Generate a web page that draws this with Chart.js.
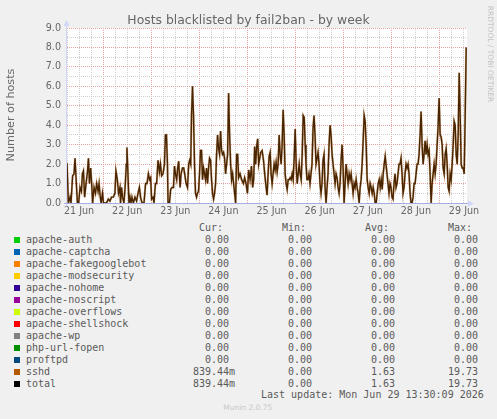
<!DOCTYPE html>
<html><head><meta charset="utf-8">
<script src="https://cdn.jsdelivr.net/npm/chart.js@4"></script>
<style>
html,body{margin:0;padding:0;background:#F0F0F0;}
#wrap{position:relative;width:497px;height:419px;overflow:hidden;background:#F0F0F0;}
#c{position:absolute;left:0;top:0;}
.t{position:absolute;white-space:pre;color:#666;}
.mono{font-family:"DejaVu Sans Mono",monospace;font-size:10px;line-height:12px;color:#5a5a5a;}
.sans{font-family:"DejaVu Sans",sans-serif;}
.sq{position:absolute;width:6px;height:6px;}
</style></head><body>
<div id="wrap"><canvas id="c" width="497" height="222"></canvas></div>
<script>
// ---- data (hours since 21 Jun 00:00) ----
const chartTitle = 'Hosts blacklisted by fail2ban - by week';
const yTitle = 'Number of hosts';
const dayLabels = ['21 Jun','22 Jun','23 Jun','24 Jun','25 Jun','26 Jun','27 Jun','28 Jun','29 Jun'];
const yTickValues = [0,1,2,3,4,5,6,7,8,9];
const hours = [6.0,6.7,7.5,8.0,8.8,9.5,10.0,10.5,11.2,11.8,12.5,13.2,13.7,14.2,14.8,15.5,16.2,16.7,17.2,17.8,
18.3,18.8,19.5,20.2,20.8,21.5,22.0,22.5,23.0,23.7,24.2,25.7,26.6,27.4,28.2,29.1,29.9,30.4,31.1,31.7,
32.4,32.7,33.2,33.7,34.4,35.1,35.6,35.9,36.4,36.9,37.4,37.9,38.4,39.1,39.9,40.7,41.4,42.1,42.7,43.4,
44.4,45.2,45.9,46.6,47.2,47.7,48.2,48.9,49.4,50.1,50.7,51.4,52.1,52.6,53.2,53.9,54.6,55.1,55.6,56.1,
56.4,57.1,57.7,58.4,59.1,59.6,60.1,60.7,61.2,61.7,62.4,62.9,63.6,64.2,64.7,65.4,66.1,66.7,67.2,67.7,
68.1,68.6,69.1,69.6,70.1,70.6,71.1,71.6,72.1,72.6,73.1,73.6,74.1,74.6,75.1,75.6,76.1,76.6,77.1,77.6,
78.1,78.6,79.1,79.6,80.1,80.6,81.1,81.6,82.1,82.6,83.1,83.6,84.1,84.6,85.1,85.6,86.1,86.6,87.1,87.6,
88.1,88.6,89.1,89.6,90.1,90.6,91.1,91.6,92.3,93.1,94.0,94.6,95.3,96.0,96.6,97.3,98.0,98.6,99.1,99.6,
100.1,100.6,101.1,101.6,102.1,102.6,103.3,104.0,104.6,105.3,105.8,
106.3,106.8,107.3,107.8,108.3,108.8,109.3,109.8,110.3,110.8,111.3,111.8,112.3,112.8,113.3,113.8,114.3,114.8,115.3,115.8,
116.3,116.8,117.3,117.8,118.3,118.8,119.3,119.8,120.3,120.8,121.3,121.8,122.3,122.8,123.3,123.8,124.3,124.8,
125.2,125.7,126.2,126.7,127.2,127.7,128.2,128.7,129.2,129.7,130.2,130.7,131.2,131.7,132.2,132.7,133.2,133.7,134.2,134.7,
135.2,135.7,136.2,136.7,137.2,137.7,138.2,138.7,139.2,139.7,140.2,140.7,141.2,141.7,142.2,142.7,143.2,143.7,144.2,144.7,
145.2,145.7,146.2,146.7,147.2,147.7,148.2,148.7,149.2,149.7,150.2,150.7,151.2,151.7,152.2,152.7,153.2,153.7,154.2,154.7,
155.2,155.7,156.2,156.7,157.2,157.7,158.2,158.7,159.2,159.7,160.2,160.7,161.2,161.7,162.2,162.7,163.2,163.7,164.2,164.7,
165.1,165.6,166.1,166.6,167.1,167.6,168.1,168.6,169.1,169.6,170.1,170.6,171.1,171.6,172.1,172.6,173.1,173.6,174.1,174.6,
175.1,175.6,176.1,176.6,177.1,177.6,178.1,178.6,179.1,179.6,180.1,180.6,181.1,181.6,182.1,182.6,183.1,183.6,184.1,184.6,
185.1,185.6,186.1,186.6,187.1,187.6,188.1,188.6,189.1,189.6,190.1,190.6,191.1,191.6,192.1,192.6,193.1,193.6,194.1,194.6,
195.1,195.6,196.1,196.6,197.1,197.6,198.1,198.6,199.1,199.6,200.1,200.6,201.1,201.6,202.1,202.6,203.1,203.6,204.1,204.6,
205.1];
const sshdHosts = [2.05,0,0.3,0,1.4,1.5,2.3,1.3,0,0,0.8,0.6,1.5,1.65,0.3,1.0,1.6,2.3,1.0,1.8,
1.0,0,0.8,0.5,1.0,0.6,1.0,0.4,0,0.5,0,0,0.2,0.1,0.3,0.3,0.5,1.65,1.2,0.5,
0.8,0,0.8,0.3,0,1.0,2.0,2.85,1.5,0,0.3,0,0.3,0,0.3,0.1,0.5,0.8,0.3,0,
0,1.0,1.0,1.5,1.2,1.3,0.2,0.3,0,1.0,1.0,2.2,1.6,2.0,1.4,1.5,2.0,3.5,3.5,2.0,
0,0,0.7,0.8,0.8,1.9,1.5,1.2,1.8,2.15,0.8,1.5,1.8,1.8,1.5,1.0,0.8,2.0,2.2,2.0,
4.5,6.0,4.5,2.0,0.5,0.3,0.5,0.6,1.5,2.7,2.7,1.2,1.8,1.5,1.2,1.8,1.0,1.8,2.3,2.2,
1.2,0.5,0.2,0.5,1.0,2.5,3.5,2.8,2.5,3.7,2.7,2.5,2.6,2.3,1.5,2.0,2.5,5.65,3.5,2.0,
1.2,1.5,1.0,0.5,0,2.5,2.5,1.3,1.5,1.2,1.0,1.3,1.0,0.5,1.7,1.2,1.9,0.8,1.2,2.9,
2.0,2.9,3.3,2.0,2.3,2.6,2.7,2.2,1.5,0.8,0.4,
1.5,2.4,2.6,1.5,1.0,1.5,2.0,1.7,2.1,1.6,2.0,3.5,2.5,2.0,3.0,4.8,3.5,1.5,1.0,0.7,
1.2,1.2,1.3,1.2,1.5,1.2,2.3,3.8,2.0,1.0,1.5,2.0,1.5,1.2,2.5,4.5,4.4,3.0,
2.0,1.2,1.2,1.5,1.0,1.5,2.0,3.8,4.5,3.5,2.0,2.3,2.6,2.0,1.0,0.5,1.0,2.2,2.5,0.8,
0,0.8,1.5,3.0,4.0,3.5,2.5,2.0,1.5,1.0,1.5,1.3,0.8,0.5,1.0,2.2,3.0,1.8,0,1.0,
2.0,1.5,1.0,1.5,1.2,1.5,1.0,0.5,1.0,0.8,1.2,0.8,0.5,0,0.8,1.2,2.0,3.2,4.5,4.2,
3.0,1.2,0.8,0.5,1.0,0.8,0.5,0.8,0.5,0,0,0.5,1.0,1.2,0.8,1.2,0.7,1.5,2.0,2.4,
2.4,1.5,1.0,0.5,1.0,0.8,0.3,0.2,1.0,1.5,0.8,1.0,1.5,2.0,2.0,2.3,1.5,0.5,0.8,1.5,
2.0,1.8,2.0,1.5,0.5,0,0,0.3,1.0,1.0,1.5,2.0,2.0,2.5,3.5,4.7,3.0,2.0,2.5,3.2,
2.5,3.0,2.5,2.7,1.5,0,1.0,1.5,2.0,1.5,2.0,3.0,4.0,5.4,3.5,3.4,3.0,1.8,1.5,2.5,
2.8,2.0,0.8,0.6,1.5,1.2,2.0,3.0,4.2,4.0,2.5,2.0,3.5,6.7,4.5,2.0,1.8,1.8,1.5,4.5,
8.0];
// "total" equals sshd on the picture (all other series are 0)
const totalHosts = sshdHosts;
const zeroHours = [6.0, 205.1];
const zeroHosts = [0, 0];

const seriesNames = ['apache-auth','apache-captcha','apache-fakegooglebot','apache-modsecurity','apache-nohome','apache-noscript','apache-overflows','apache-shellshock','apache-wp','php-url-fopen','proftpd','sshd','total'];
const seriesColors = ['#00CC00','#0066B3','#FF8000','#FFCC00','#330099','#990099','#CCFF00','#FF0000','#808080','#008F00','#00487D','#B35A00','#000000'];
const curValues = ['0.00','0.00','0.00','0.00','0.00','0.00','0.00','0.00','0.00','0.00','0.00','839.44m','839.44m'];
const minValues = ['0.00','0.00','0.00','0.00','0.00','0.00','0.00','0.00','0.00','0.00','0.00','0.00','0.00'];
const avgValues = ['0.00','0.00','0.00','0.00','0.00','0.00','0.00','0.00','0.00','0.00','0.00','1.63','1.63'];
const maxValues = ['0.00','0.00','0.00','0.00','0.00','0.00','0.00','0.00','0.00','0.00','0.00','19.73','19.73'];
const columnHeads = ['Cur:','Min:','Avg:','Max:'];
const lastUpdate = 'Last update: Mon Jun 29 13:30:09 2026';
const version = 'Munin 2.0.75';
const watermark = 'RRDTOOL / TOBI OETIKER';

// ---- build chart ----
const pts = (xs, ys) => xs.map((x, i) => ({x, y: ys[i]}));
const datasets = [];
for (let i = 0; i < 11; i++) {
  // zero-valued series lie on the axis and are hidden under it, as in the reference
  datasets.push({label: seriesNames[i], data: pts(zeroHours, zeroHosts), borderColor: seriesColors[i], borderWidth: 1,
    pointRadius: 0, tension: 0, clip: {left: 0, top: 0, right: 0, bottom: -1}});
}
datasets.push({label: 'sshd', data: pts(hours, sshdHosts), borderColor: 'rgba(179,90,0,0.4)', borderWidth: 2.2, pointRadius: 0, tension: 0});
datasets.push({label: 'total', data: pts(hours, totalHosts), borderColor: '#000000', borderWidth: 1.4, pointRadius: 0, tension: 0});

const MAJOR = '#e8a3a3', MINOR = '#cfcfcf', AXIS = '#CFD6F8', XAXIS = '#a6afe2';

const muninPlugin = {
  id: 'munin',
  beforeDraw(chart) {
    const {ctx, chartArea: a} = chart;
    ctx.save();
    ctx.fillStyle = '#F0F0F0'; ctx.fillRect(0, 0, chart.width, chart.height);
    ctx.fillStyle = '#FFFFFF'; ctx.fillRect(a.left, a.top, a.right - a.left, a.bottom - a.top);
    ctx.restore();
  },
  afterDatasetsDraw(chart) {
    const {ctx, chartArea: a} = chart;
    const y0 = Math.round(chart.scales.y.getPixelForValue(0)) + 0.5;
    const x0 = Math.round(a.left) - 0.5;
    ctx.save();
    ctx.lineWidth = 1;
    ctx.strokeStyle = AXIS;
    ctx.beginPath(); ctx.moveTo(x0, y0 + 3); ctx.lineTo(x0, a.top - 4); ctx.stroke();
    ctx.fillStyle = AXIS;
    ctx.beginPath(); ctx.moveTo(x0 - 3, a.top - 2); ctx.lineTo(x0 + 3, a.top - 2); ctx.lineTo(x0, a.top - 8); ctx.closePath(); ctx.fill();
    ctx.strokeStyle = XAXIS;
    ctx.beginPath(); ctx.moveTo(a.left - 3, y0); ctx.lineTo(a.right + 1, y0); ctx.stroke();
    ctx.fillStyle = AXIS;
    ctx.beginPath(); ctx.moveTo(a.right + 1, y0 - 3); ctx.lineTo(a.right + 1, y0 + 3); ctx.lineTo(a.right + 7, y0); ctx.closePath(); ctx.fill();
    ctx.restore();
  }
};

Chart.defaults.font.family = '"DejaVu Sans", sans-serif';
new Chart(document.getElementById('c'), {
  type: 'line',
  data: {datasets},
  plugins: [muninPlugin],
  options: {
    responsive: false, animation: false, devicePixelRatio: 1,
    layout: {padding: {top: 28, right: 30, left: 0, bottom: 0}},
    plugins: {legend: {display: false}, tooltip: {enabled: false}, title: {display: false}},
    scales: {
      x: {
        type: 'linear', min: 6.0, max: 205.5,
        afterBuildTicks: s => { const t = []; for (let h = 6; h <= 204; h += 6) t.push({value: h}); s.ticks = t; },
        afterFit: s => { s.height = 19; },
        ticks: {autoSkip: false, maxRotation: 0, padding: 3, color: '#666', font: {size: 9.6},
          callback: v => (v % 24 === 12 ? dayLabels[(v - 12) / 24] : '')},
        grid: {drawTicks: false, lineWidth: 1, color: c => (c.tick && c.tick.value % 24 === 0 ? MAJOR : MINOR)},
        border: {display: false, dash: [1, 1]}
      },
      y: {
        min: 0, max: 9,
        afterBuildTicks: s => { const t = []; for (let v = 0; v <= 9; v += 0.5) t.push({value: v}); s.ticks = t; },
        afterFit: s => { s.width = 67; },
        ticks: {autoSkip: false, padding: 6, color: '#666', font: {size: 9.6},
          callback: v => (yTickValues.includes(v) ? v.toFixed(1) : '')},
        grid: {drawTicks: false, lineWidth: 1, color: c => (c.tick && Number.isInteger(c.tick.value) ? MAJOR : MINOR)},
        border: {display: false, dash: [1, 1]}
      }
    }
  }
});

// ---- texts ----
const wrap = document.getElementById('wrap');
function addText(txt, cls, style) {
  const d = document.createElement('div');
  d.className = 't ' + cls; d.textContent = txt;
  Object.assign(d.style, style); wrap.appendChild(d); return d;
}
addText(chartTitle, 'sans', {left: '0px', width: '497px', textAlign: 'center', top: '12.5px', fontSize: '12.4px', lineHeight: '14px'});
addText(yTitle, 'sans', {left: '-89px', width: '200px', textAlign: 'center', top: '107.7px', fontSize: '11.2px', lineHeight: '14px', transform: 'rotate(-90deg)'});
addText(watermark, 'sans', {left: '440px', width: '100px', textAlign: 'center', top: '48.5px', fontSize: '7.5px', lineHeight: '10px', color: '#c2c2c2', transform: 'rotate(90deg)'});

const colStarts = [193, 276, 359, 442];
const fmt = v => (/[a-zA-Z]$/.test(v) ? v.padStart(7) : v.padStart(6) + ' ');
const rowTop0 = 233.7, rowStep = 12;
columnHeads.forEach((h, j) => addText(h, 'mono', {left: (colStarts[j] + 6) + 'px', top: (rowTop0 - rowStep) + 'px'}));
seriesNames.forEach((name, i) => {
  const top = rowTop0 + i * rowStep;
  const sq = document.createElement('div'); sq.className = 'sq';
  Object.assign(sq.style, {left: '14px', top: (top + 3.3) + 'px', background: seriesColors[i]});
  wrap.appendChild(sq);
  addText(name, 'mono', {left: '26px', top: top + 'px'});
  [curValues, minValues, avgValues, maxValues].forEach((arr, j) => addText(fmt(arr[i]), 'mono', {left: colStarts[j] + 'px', top: top + 'px'}));
});
addText(lastUpdate, 'mono', {left: '261px', top: '389.4px'});
addText(version, 'sans', {left: '0px', width: '495.6px', textAlign: 'center', top: '402.7px', fontSize: '7.5px', lineHeight: '10px', color: '#c8c8c8'});
</script>
</body></html>
